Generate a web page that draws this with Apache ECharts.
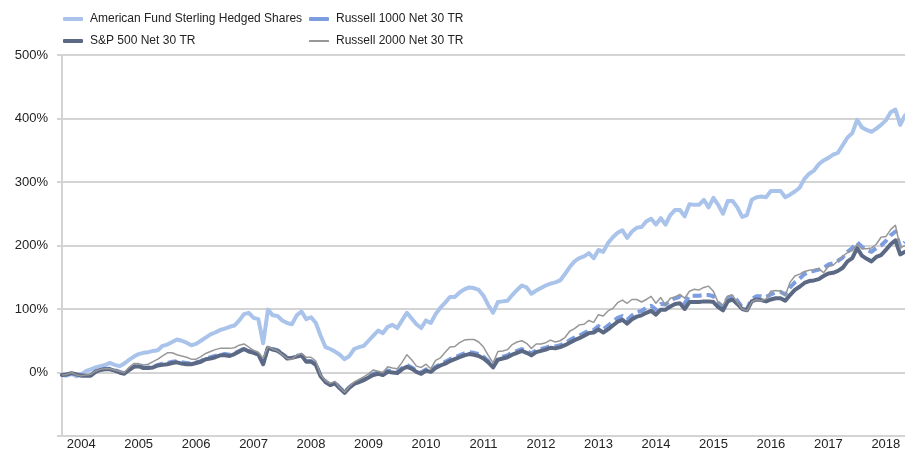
<!DOCTYPE html>
<html>
<head>
<meta charset="utf-8">
<script src="https://cdn.jsdelivr.net/npm/echarts@6/dist/echarts.min.js"></script>
<style>
html,body{margin:0;padding:0;background:#fff;}
#chart{width:905px;height:453px;}
</style>
</head>
<body>
<div id="chart"></div>
<script>
// Monthly categories Sep 2003 .. May 2018
const startYear = 2003, startMonth = 9, monthCount = 177;
const categories = [];
for (let i = 0; i < monthCount; i++) {
  const m = startMonth - 1 + i;
  const y = startYear + Math.floor(m / 12);
  const mm = (m % 12) + 1;
  categories.push(y + '-' + (mm < 10 ? '0' + mm : mm));
}

const seriesNames = ['American Fund Sterling Hedged Shares', 'Russell 1000 Net 30 TR', 'S&P 500 Net 30 TR', 'Russell 2000 Net 30 TR'];
const yTicks = [-100, 0, 100, 200, 300, 400, 500];

const americanFund = [
-4,-5,-2,-6,-3,2,5,8,10,12,15,12,10,14,20,25,29,31,32,34,35,42,44,48,52,50,47,43,45,50,
55,60,63,67,69,72,74,82,92,94,86,84,46,99,90,89,82,78,76,90,96,84,87,78,58,40,37,33,28,21,
26,37,40,42,50,58,66,62,72,75,70,82,94,85,76,70,82,78,92,102,110,119,119,126,131,134,133,130,121,106,
94,111,112,113,122,130,137,134,124,129,133,137,140,142,145,155,166,175,180,183,188,180,193,190,204,213,220,224,212,222,
228,229,238,242,233,243,233,248,256,256,246,265,264,264,272,260,275,264,250,270,270,260,245,248,272,276,277,276,286,286,
286,276,280,285,291,305,313,318,328,334,338,343,346,358,370,377,398,386,382,379,384,390,397,410,414,390,405
];

const russell1000 = [
-4,-3,-1,-3,-4,-4,-4,2,5,6,6,4,1,-1,5,10,11,8,8,9,12,14,15,17,18,16,15,14,16,18,
22,24,26,28,29,28,30,34,38,34,32,29,15,40,37,35,30,23,23,26,28,18,18,13,-5,-14,-19,-16,-24,-31,
-23,-17,-14,-10,-6,-2,0,-2,3,2,1,7,12,8,3,0,5,3,9,13,17,21,24,27,30,32,31,29,25,18,
10,22,25,27,31,34,37,34,30,35,37,39,42,41,43,46,51,55,58,62,66,67,73,68,74,80,86,89,83,90,
95,97,102,105,99,108,107,113,117,119,109,121,121,121,122,122,120,110,103,118,121,113,103,100,116,120,120,119,123,126,
127,123,134,142,148,155,158,160,162,165,170,172,176,181,190,196,205,198,193,190,196,200,207,216,222,198,205
];

const sp500 = [
-4,-3,-1,-3,-5,-5,-5,1,4,5,5,3,0,-2,4,9,10,7,7,8,11,12,13,15,16,14,13,13,15,17,
21,22,24,27,27,26,29,33,37,33,31,28,13,39,36,34,29,22,23,25,27,17,17,12,-6,-15,-20,-17,-25,-32,
-24,-18,-15,-12,-8,-4,-2,-4,1,0,-1,5,9,6,1,-2,3,1,7,11,14,18,21,24,27,29,28,26,22,16,
8,20,22,24,28,31,34,31,27,32,34,36,39,38,40,43,47,51,54,58,62,63,68,63,68,74,80,83,77,84,
88,90,94,97,91,99,99,104,108,109,100,111,111,111,112,112,111,103,98,112,115,108,100,98,112,115,114,112,115,117,
117,113,122,130,135,141,144,145,147,152,156,157,160,165,175,180,196,184,179,175,182,185,193,202,208,186,190
];

const russell2000 = [
-4,-3,0,-4,-5,-4,-3,2,5,6,6,4,2,0,8,14,14,12,13,17,21,26,31,31,28,26,24,21,21,25,
30,33,36,38,38,38,39,43,45,40,35,32,22,41,37,34,28,22,21,27,30,24,24,18,-4,-13,-17,-14,-24,-31,
-22,-15,-11,-7,-2,4,2,0,9,7,6,16,28,20,10,8,13,6,19,23,32,40,41,47,51,52,52,48,40,27,
15,33,34,36,44,48,50,46,38,45,45,47,51,48,50,55,65,69,75,76,82,79,91,89,97,101,110,114,109,115,
115,111,115,120,109,118,106,117,119,123,117,128,131,130,134,136,128,110,106,120,122,110,100,97,111,115,113,116,128,129,
128,121,142,152,155,159,161,162,164,157,167,169,176,183,189,192,202,195,195,196,202,213,214,225,232,196,200
];

const colors = ['#a9c3eb', '#7c9de0', '#5b6985', '#979797'];

const chart = echarts.init(document.getElementById('chart'));

function legendCfg(name, left, top, h) {
  return {
    data: [name],
    left: left, top: top, padding: 0,
    icon: 'roundRect', itemWidth: 20, itemHeight: h, itemGap: 0,
    selectedMode: false,
    textStyle: { fontFamily: 'Liberation Sans, Arial, sans-serif', fontSize: 12, color: '#222', padding: [0, 0, 0, 2] }
  };
}

const option = {
  animation: false,
  backgroundColor: '#fff',
  legend: [
    legendCfg(seriesNames[0], 63, 13, 4),
    legendCfg(seriesNames[1], 309, 13, 4),
    legendCfg(seriesNames[2], 63, 35, 4),
    legendCfg(seriesNames[3], 309, 35, 2)
  ],
  grid: { left: 62, right: 0, top: 55, bottom: 17, containLabel: false },
  xAxis: {
    type: 'category',
    data: categories,
    boundaryGap: false,
    axisLine: { show: true, lineStyle: { color: '#d4d4d4', width: 2 } },
    axisTick: { show: false },
    splitLine: { show: false },
    axisLabel: {
      interval: function (idx, val) { return val.slice(5) === '01'; },
      formatter: function (val) { return val.slice(0, 4); },
      margin: 2,
      fontFamily: 'Liberation Sans, Arial, sans-serif',
      fontSize: 13, color: '#222'
    }
  },
  yAxis: {
    type: 'value',
    min: yTicks[0], max: yTicks[yTicks.length - 1], interval: 100,
    axisLine: { show: true, lineStyle: { color: '#d4d4d4', width: 2 } },
    axisTick: { show: true, length: 5, lineStyle: { color: '#d4d4d4', width: 2 } },
    splitLine: { show: true, lineStyle: { color: '#d4d4d4', width: 2 } },
    axisLabel: {
      formatter: function (v) { return v === yTicks[0] ? '' : v + '%'; },
      margin: 14,
      fontFamily: 'Liberation Sans, Arial, sans-serif',
      fontSize: 13, color: '#222'
    }
  },
  series: [
    { name: seriesNames[0], type: 'line', data: americanFund, symbol: 'none', color: colors[0],
      lineStyle: { width: 4, color: colors[0], join: 'round', cap: 'round' } },
    { name: seriesNames[1], type: 'line', data: russell1000, symbol: 'none', color: colors[1],
      lineStyle: { width: 4, color: colors[1], type: [9, 5], join: 'round' } },
    { name: seriesNames[2], type: 'line', data: sp500, symbol: 'none', color: colors[2],
      lineStyle: { width: 4, color: colors[2], join: 'round', cap: 'round' } },
    { name: seriesNames[3], type: 'line', data: russell2000, symbol: 'none', color: colors[3],
      lineStyle: { width: 1.5, color: colors[3], join: 'round' } }
  ]
};
chart.setOption(option);
</script>
</body>
</html>
